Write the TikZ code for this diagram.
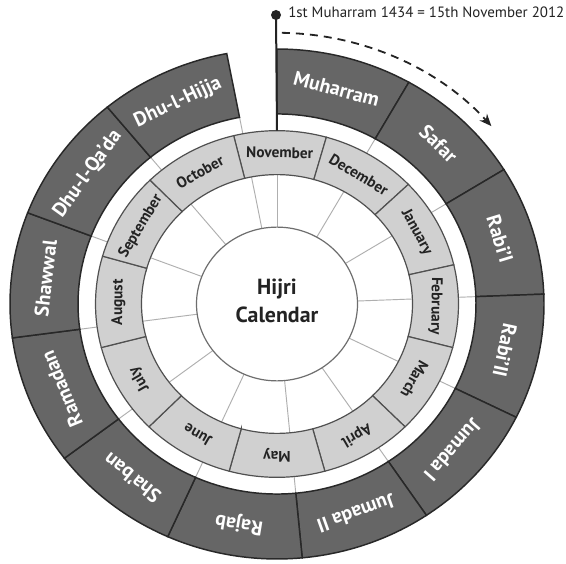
\documentclass[tikz,border=0pt]{standalone}
\usepackage{fontspec}
\setmainfont{PT Sans}
\usetikzlibrary{arrows.meta}
\definecolor{darkring}{RGB}{102,102,102}
\definecolor{edgedark}{RGB}{40,40,40}
\definecolor{greg}{RGB}{208,208,208}
\definecolor{gregedge}{RGB}{80,80,80}
\definecolor{thincol}{RGB}{175,175,175}
\definecolor{txt}{RGB}{35,35,35}
\definecolor{circedge}{RGB}{110,110,110}
\tikzset{
  hsector/.style={fill=darkring, draw=edgedark, line width=1.1pt, line join=miter},
  gsector/.style={fill=greg, draw=gregedge, line width=0.9pt},
  thinline/.style={draw=thincol, line width=0.7pt},
  hlabel/.style={text=white, font=\bfseries\fontsize{15}{18}\selectfont, inner sep=0pt},
  glabel/.style={text=txt, font=\bfseries\fontsize{11.5}{13}\selectfont, inner sep=0pt},
  pinline/.style={draw=txt, line width=1.5pt},
  dasharrow/.style={draw=txt, line width=1.35pt, dash pattern=on 6pt off 4.5pt, -{Stealth[length=9pt,width=7.5pt]}}
}
\begin{document}
\begin{tikzpicture}[x=0.75pt,y=0.75pt]
\useasboundingbox (-277,-259) rectangle (289,304);
\fill[white] (-277,-259) rectangle (289,304);
\begin{scope}[yscale=0.955]
  % thin radial guide lines at the Hijri month boundaries
  \foreach \t in {0,29.59,58.19,87.78,116.38,145.97,174.58,204.16,232.77,262.36,290.96,320.55,349.15} {
    \draw[thinline] ({90-\t}:80.5) -- ({90-\t}:135.5);
    \draw[thinline] ({90-\t}:181.5) -- ({90-\t}:199);
  }
  % Gregorian ring
  \foreach \a/\b/\lab [count=\i] in {-13.81/15.78/November,15.78/46.36/December,46.36/76.93/January,76.93/104.55/February,104.55/135.12/March,135.12/164.71/April,164.71/195.29/May,195.29/224.88/June,224.88/255.45/July,255.45/286.03/August,286.03/315.62/September,315.62/346.19/October} {
    \filldraw[gsector] ({90-\a}:135.5) -- ({90-\a}:181.5) arc[start angle={90-\a}, end angle={90-\b}, radius=181.5] -- ({90-\b}:135.5) arc[start angle={90-\b}, end angle={90-\a}, radius=135.5] -- cycle;
    \node[glabel, rotate={-(\a+\b)/2}] (g\i) at ({90-(\a+\b)/2}:158.5) {\lab};
  }
  % centre circle
  \draw[draw=circedge, line width=0.9pt, fill=white] (0,0) circle[radius=80.5];
  % Hijri ring
  \foreach \a/\b/\lab [count=\i] in {0/29.59/Muharram,29.59/58.19/Safar,58.19/87.78/Rabi’I,87.78/116.38/Rabi’II,116.38/145.97/Jumada I,145.97/174.58/Jumada II,174.58/204.16/Rajab,204.16/232.77/Sha’ban,232.77/262.36/Ramadan,262.36/290.96/Shawwal,290.96/320.55/Dhu-l-Qa’da,320.55/349.15/Dhu-l-Hijja} {
    \filldraw[hsector] ({90-\a}:199) -- ({90-\a}:267) arc[start angle={90-\a}, end angle={90-\b}, radius=267] -- ({90-\b}:199) arc[start angle={90-\b}, end angle={90-\a}, radius=199] -- cycle;
    \node[hlabel, rotate={-(\a+\b)/2}] (h\i) at ({90-(\a+\b)/2}:233) {\lab};
  }
  \coordinate (pinbase) at (90:181.5);
  \coordinate (arcstart) at (89:284);
  \draw[dasharrow] (arcstart) arc[start angle=89, end angle=41, radius=284];
\end{scope}
\node[circle, fill=txt, inner sep=0pt, minimum size=7.5pt] (pin) at (-1,289) {};
\draw[pinline] (pin.center) -- (pinbase);
\node[anchor=west, inner sep=0pt, text=txt, font=\fontsize{11.2}{13}\selectfont] (title) at (11,291.5) {1st Muharram 1434 = 15th November 2012};
\node[align=center, text=txt, font=\bfseries\fontsize{16.4}{21}\selectfont] (centre) at (0,3) {Hijri\\Calendar};
\end{tikzpicture}
\end{document}
